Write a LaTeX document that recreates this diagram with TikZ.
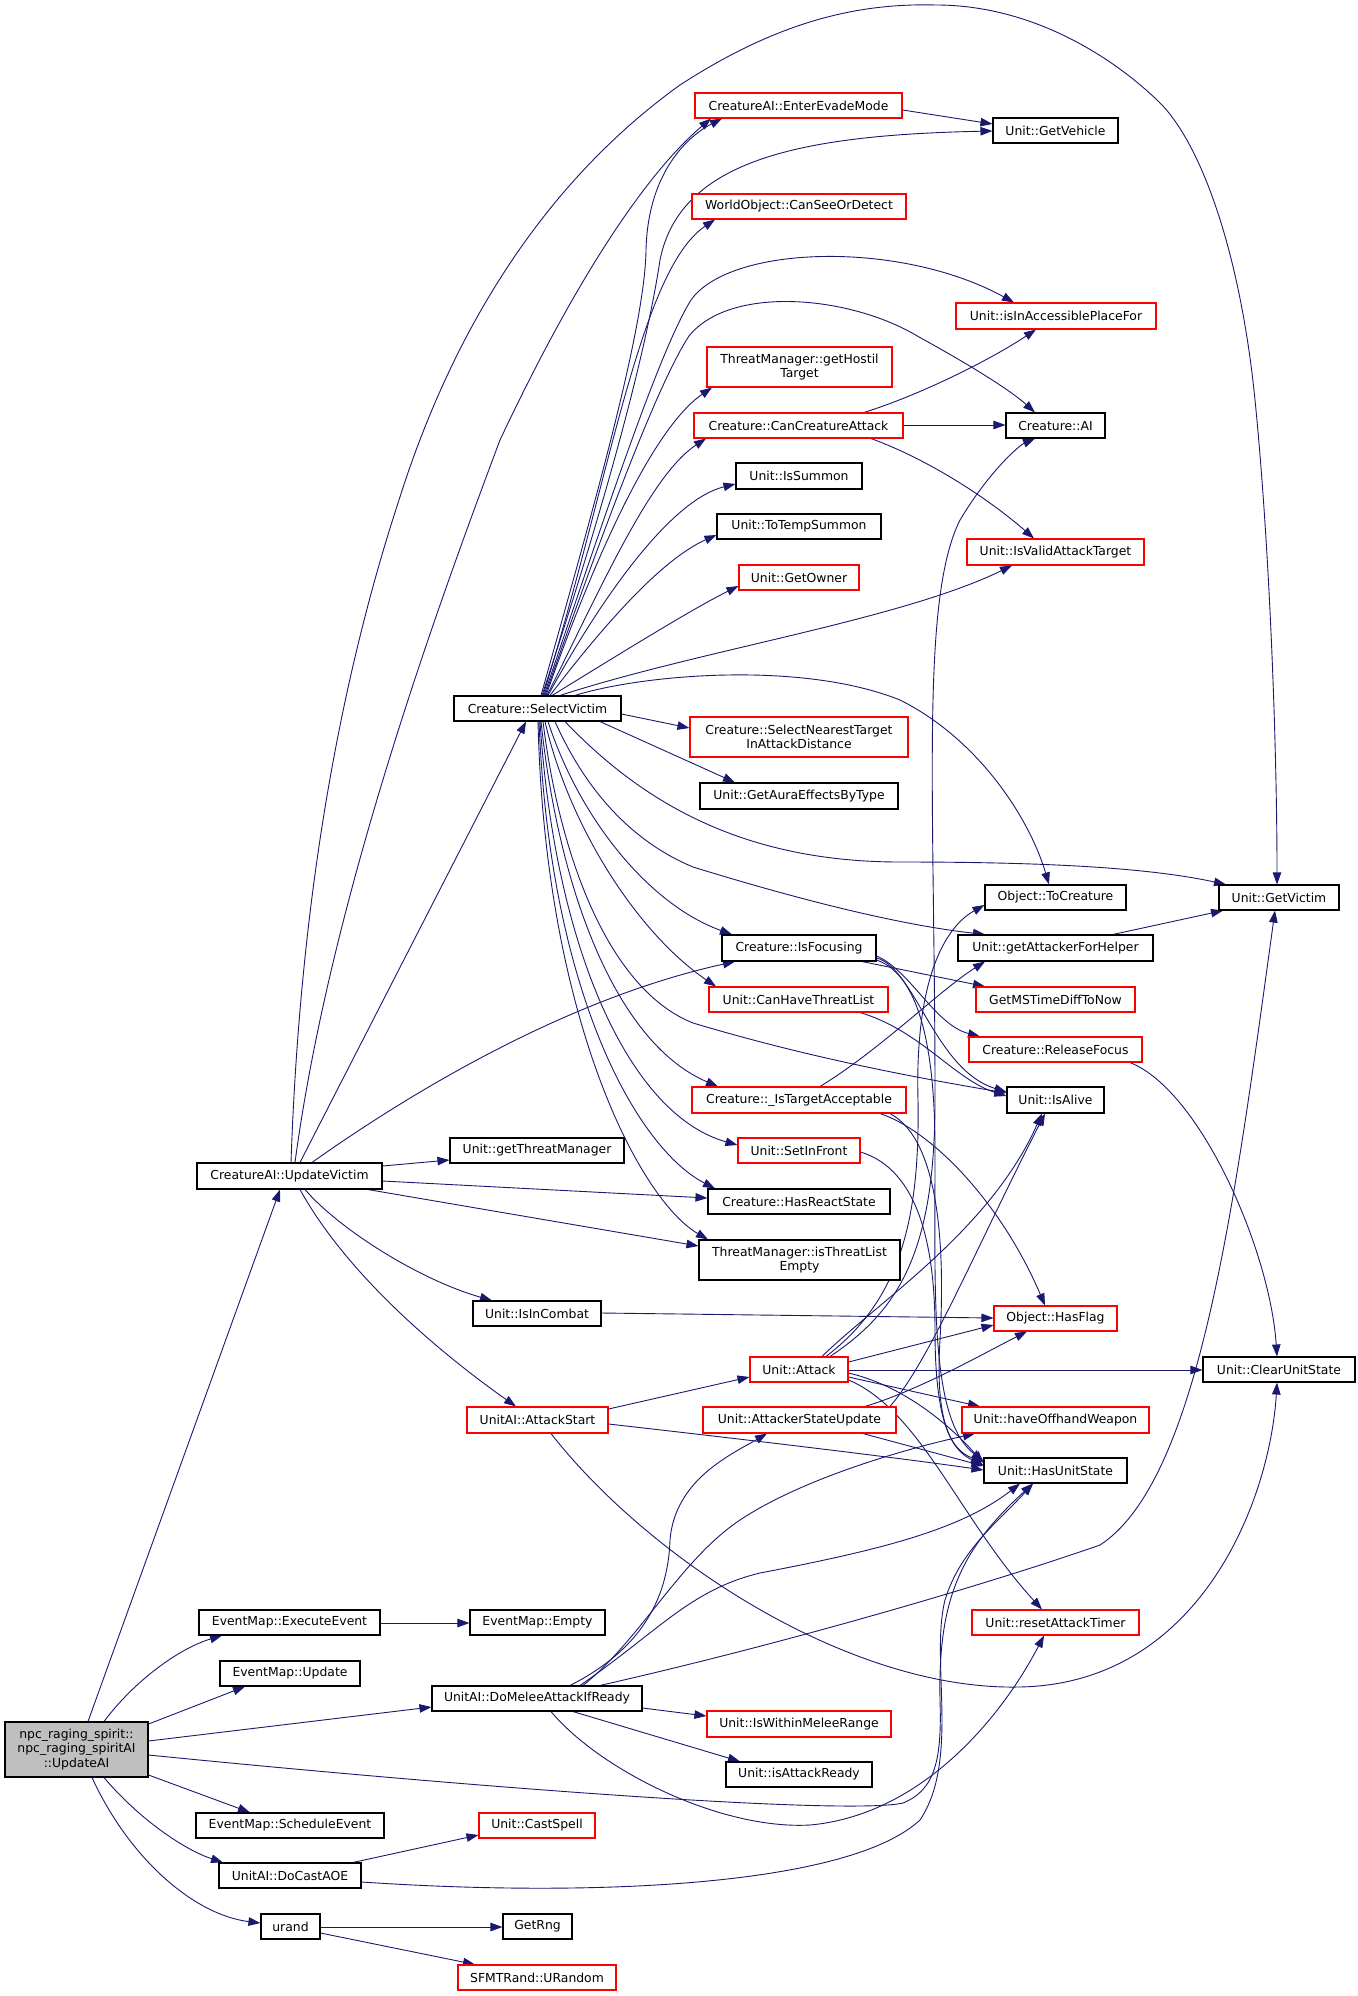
\documentclass[tikz,border=0pt]{standalone}
\usepackage{fontspec}
\setmainfont{DejaVu Sans}
\usetikzlibrary{arrows.meta,calc}
\definecolor{edgeblue}{HTML}{191970}
\definecolor{rootgray}{HTML}{BFBFBF}
\newcommand{\dfont}{\fontsize{12.4pt}{14.5pt}\selectfont}
\newcommand{\ptT}[2]{($(#1.north west)!(#2,0)!(#1.north east)$)}
\newcommand{\ptB}[2]{($(#1.south west)!(#2,0)!(#1.south east)$)}
\newcommand{\ptL}[2]{($(#1.north west)!(0,#2)!(#1.south west)$)}
\newcommand{\ptR}[2]{($(#1.north east)!(0,#2)!(#1.south east)$)}
\newcommand{\nd}[7][]{\node[box,#1,minimum width={(#5-#3)*1pt},minimum height={(#6-#4)*1pt}] (#2) at ({(#3+#5)/2},{(#4+#6)/2}) {#7};}
\pgfdeclarelayer{back}
\pgfdeclarelayer{bg}
\pgfsetlayers{back,bg,main}
\tikzset{
  box/.style={draw=black, line width=1.1pt, fill=white, inner sep=0pt, font=\dfont, align=center},
  rbox/.style={draw=red},
  rootbox/.style={fill=rootgray},
  conn/.style={draw=edgeblue, line width=0.9pt, -{Triangle[length=12pt,width=8.5pt,fill=edgeblue]}},
}
\begin{document}
\begin{tikzpicture}[x=1pt,y=-1pt]
\begin{pgfonlayer}{back}
\fill[white] (0,0) rectangle (1357,1996);
\end{pgfonlayer}
\useasboundingbox (0,0) rectangle (1357,1996);
% nodes
\nd[rootbox]{root}{5}{1722}{148}{1777}{npc\_raging\_spirit::\\npc\_raging\_spiritAI\\::UpdateAI}
\nd{exec}{199}{1610}{380}{1635}{EventMap::ExecuteEvent}
\nd{empty}{470}{1610}{605}{1635}{EventMap::Empty}
\nd{upd}{220}{1661}{360}{1686}{EventMap::Update}
\nd{melee}{432}{1686}{642}{1711}{UnitAI::DoMeleeAttackIfReady}
\nd{sched}{196}{1813}{384}{1838}{EventMap::ScheduleEvent}
\nd[rbox]{cast}{479}{1813}{595}{1838}{Unit::CastSpell}
\nd{aoe}{219}{1863}{361}{1888}{UnitAI::DoCastAOE}
\nd{urand}{261}{1914}{320}{1939}{urand}
\nd{rng}{503}{1914}{572}{1939}{GetRng}
\nd[rbox]{sfmt}{458}{1965}{616}{1990}{SFMTRand::URandom}
\nd[rbox]{reset}{972}{1610}{1139}{1635}{Unit::resetAttackTimer}
\nd[rbox]{wmr}{707}{1711}{891}{1737}{Unit::IsWithinMeleeRange}
\nd{ready}{726}{1762}{872}{1787}{Unit::isAttackReady}
\nd{uv}{197}{1163}{382}{1189}{CreatureAI::UpdateVictim}
\nd{gtm}{450}{1138}{624}{1163}{Unit::getThreatManager}
\nd{combat}{473}{1301}{601}{1326}{Unit::IsInCombat}
\nd[rbox]{astart}{467}{1407}{608}{1433}{UnitAI::AttackStart}
\nd{sv}{454}{696}{621}{721}{Creature::SelectVictim}
\nd[rbox]{evade}{695}{93}{902}{118}{CreatureAI::EnterEvadeMode}
\nd{veh}{993}{118}{1118}{143}{Unit::GetVehicle}
\nd[rbox]{csod}{692}{194}{906}{219}{WorldObject::CanSeeOrDetect}
\nd[rbox]{iap}{956}{303}{1156}{329}{Unit::isInAccessiblePlaceFor}
\nd[rbox]{ght}{707}{347}{892}{387}{ThreatManager::getHostil\\Target}
\nd[rbox]{cca}{694}{413}{903}{438}{Creature::CanCreatureAttack}
\nd{ai}{1006}{413}{1105}{438}{Creature::AI}
\nd{summ}{736}{463}{862}{489}{Unit::IsSummon}
\nd{tts}{717}{514}{881}{539}{Unit::ToTempSummon}
\nd[rbox]{ivat}{967}{539}{1144}{565}{Unit::IsValidAttackTarget}
\nd[rbox]{owner}{739}{565}{859}{590}{Unit::GetOwner}
\nd[rbox]{snt}{690}{717}{908}{757}{Creature::SelectNearestTarget\\InAttackDistance}
\nd{aura}{700}{783}{898}{809}{Unit::GetAuraEffectsByType}
\nd{tocr}{985}{885}{1126}{910}{Object::ToCreature}
\nd{victim}{1219}{885}{1339}{910}{Unit::GetVictim}
\nd{focus}{722}{935}{876}{961}{Creature::IsFocusing}
\nd{afh}{958}{935}{1153}{961}{Unit::getAttackerForHelper}
\nd[rbox]{chtl}{709}{987}{888}{1012}{Unit::CanHaveThreatList}
\nd[rbox]{gms}{976}{987}{1135}{1012}{GetMSTimeDiffToNow}
\nd[rbox]{rel}{969}{1037}{1142}{1062}{Creature::ReleaseFocus}
\nd[rbox]{ita}{692}{1087}{906}{1113}{Creature::\_IsTargetAcceptable}
\nd{alive}{1007}{1087}{1104}{1113}{Unit::IsAlive}
\nd[rbox]{sif}{738}{1138}{860}{1163}{Unit::SetInFront}
\nd{hrs}{708}{1189}{890}{1214}{Creature::HasReactState}
\nd{itle}{699}{1240}{900}{1280}{ThreatManager::isThreatList\\Empty}
\nd[rbox]{hasflag}{994}{1306}{1117}{1331}{Object::HasFlag}
\nd[rbox]{attack}{750}{1357}{848}{1382}{Unit::Attack}
\nd{cus}{1203}{1357}{1355}{1382}{Unit::ClearUnitState}
\nd[rbox]{asu}{703}{1407}{896}{1433}{Unit::AttackerStateUpdate}
\nd[rbox]{offh}{962}{1407}{1149}{1433}{Unit::haveOffhandWeapon}
\nd{hus}{984}{1458}{1127}{1483}{Unit::HasUnitState}
% edges
\begin{pgfonlayer}{bg}
% root
\draw[conn] \ptT{root}{88} -- \ptB{uv}{280};
\draw[conn] \ptT{root}{104} .. controls (135,1680) and (180,1648) .. \ptB{exec}{222};
\draw[conn] \ptR{root}{1724} -- \ptB{upd}{245};
\draw[conn] \ptR{root}{1741} -- \ptL{melee}{1707};
\draw[conn] \ptR{root}{1755} .. controls (500,1790) and (850,1815) .. (903,1803) .. controls (935,1790) and (942,1760) .. (940,1700) .. controls (938,1600) and (960,1550) .. \ptB{hus}{1033};
\draw[conn] \ptR{root}{1775} -- \ptT{sched}{250};
\draw[conn] \ptB{root}{104} .. controls (140,1820) and (185,1850) .. \ptT{aoe}{223};
\draw[conn] \ptB{root}{92} .. controls (130,1860) and (195,1915) .. \ptL{urand}{1923};
\draw[conn] \ptR{exec}{1623} -- \ptL{empty}{1623};
\draw[conn] \ptT{aoe}{353} -- \ptL{cast}{1835};
\draw[conn] \ptR{aoe}{1882} .. controls (600,1898) and (850,1885) .. (920,1820) .. controls (960,1760) and (930,1660) .. (945,1600) .. controls (960,1550) and (1000,1520) .. \ptB{hus}{1033};
\draw[conn] \ptR{urand}{1927} -- \ptL{rng}{1927};
\draw[conn] \ptR{urand}{1933} -- \ptT{sfmt}{475};
% melee
\draw[conn] \ptR{melee}{1708} -- \ptL{wmr}{1716};
\draw[conn] \ptB{melee}{573} -- \ptT{ready}{740};
\draw[conn] \ptB{melee}{551} .. controls (600,1770) and (720,1830) .. (810,1825) .. controls (920,1815) and (1000,1720) .. \ptB{reset}{1044};
\draw[conn] \ptT{melee}{570} .. controls (640,1650) and (668,1600) .. (670,1540) .. controls (675,1480) and (730,1455) .. \ptB{asu}{767};
\draw[conn] \ptT{melee}{580} .. controls (660,1630) and (690,1590) .. (760,1573) .. controls (880,1550) and (960,1530) .. \ptB{hus}{1020};
\draw[conn] \ptT{melee}{583} .. controls (640,1640) and (680,1560) .. (740,1520) .. controls (800,1480) and (900,1450) .. \ptB{offh}{975};
\draw[conn] \ptT{melee}{600} .. controls (800,1640) and (1000,1580) .. (1100,1545) .. controls (1200,1480) and (1235,1200) .. \ptB{victim}{1275};
% UpdateVictim
\draw[conn] \ptT{uv}{291} .. controls (300,900) and (340,680) .. (399,500) .. controls (440,370) and (520,200) .. (680,85) .. controls (780,20) and (860,3) .. (936,5) .. controls (1030,5) and (1110,55) .. (1157,100) .. controls (1200,140) and (1240,250) .. (1255,400) .. controls (1270,550) and (1277,750) .. \ptT{victim}{1277};
\draw[conn] \ptT{uv}{295} .. controls (330,900) and (440,600) .. (500,440) .. controls (580,270) and (650,170) .. \ptB{evade}{711};
\draw[conn] \ptT{uv}{300} -- \ptB{sv}{526};
\draw[conn] \ptT{uv}{312} .. controls (400,1100) and (560,1000) .. \ptB{focus}{735};
\draw[conn] \ptR{uv}{1166} -- \ptL{gtm}{1160};
\draw[conn] \ptR{uv}{1181} -- \ptL{hrs}{1198};
\draw[conn] \ptB{uv}{368} -- \ptL{itle}{1246};
\draw[conn] \ptB{uv}{305} .. controls (340,1230) and (420,1280) .. \ptT{combat}{492};
\draw[conn] \ptB{uv}{300} .. controls (350,1280) and (450,1360) .. \ptT{astart}{516};
% SelectVictim
\draw[conn] \ptT{sv}{541} .. controls (590,520) and (645,330) .. (646,250) .. controls (648,170) and (690,135) .. \ptB{evade}{722};
\draw[conn] \ptT{sv}{542} .. controls (600,520) and (645,360) .. (660,260) .. controls (680,160) and (800,135) .. \ptL{veh}{131};
\draw[conn] \ptT{sv}{543} .. controls (610,480) and (640,270) .. \ptB{csod}{715};
\draw[conn] \ptT{sv}{544} .. controls (610,500) and (660,350) .. (691,300) .. controls (730,245) and (900,240) .. \ptT{iap}{1014};
\draw[conn] \ptT{sv}{545} .. controls (610,510) and (660,380) .. (689,336) .. controls (730,285) and (850,295) .. (919,337) .. controls (970,365) and (1010,390) .. \ptT{ai}{1035};
\draw[conn] \ptT{sv}{546} .. controls (590,570) and (650,430) .. \ptB{ght}{712};
\draw[conn] \ptT{sv}{547} .. controls (600,590) and (650,475) .. \ptB{cca}{706};
\draw[conn] \ptT{sv}{548} .. controls (600,600) and (670,500) .. \ptL{summ}{484};
\draw[conn] \ptT{sv}{550} .. controls (600,630) and (660,560) .. \ptL{tts}{535};
\draw[conn] \ptT{sv}{552} .. controls (610,660) and (690,610) .. \ptL{owner}{586};
\draw[conn] \ptT{sv}{560} .. controls (700,650) and (900,620) .. \ptB{ivat}{1012};
\draw[conn] \ptT{sv}{575} .. controls (640,675) and (800,660) .. (900,700) .. controls (980,740) and (1030,820) .. \ptT{tocr}{1049};
\draw[conn] \ptR{sv}{714} -- \ptL{snt}{728};
\draw[conn] \ptB{sv}{600} -- \ptT{aura}{735};
\draw[conn] \ptB{sv}{565} .. controls (640,800) and (740,862) .. (900,862) .. controls (1050,862) and (1150,868) .. \ptT{victim}{1226};
\draw[conn] \ptB{sv}{555} .. controls (590,800) and (640,845) .. (693,867) .. controls (800,900) and (900,925) .. \ptT{afh}{985};
\draw[conn] \ptB{sv}{548} .. controls (580,820) and (650,905) .. \ptT{focus}{732};
\draw[conn] \ptB{sv}{545} .. controls (570,830) and (640,935) .. \ptT{chtl}{716};
\draw[conn] \ptB{sv}{543} .. controls (560,860) and (610,990) .. (693,1023) .. controls (800,1055) and (900,1075) .. \ptL{alive}{1093};
\draw[conn] \ptB{sv}{541} .. controls (560,900) and (620,1045) .. \ptT{ita}{718};
\draw[conn] \ptB{sv}{540} .. controls (555,950) and (630,1115) .. \ptL{sif}{1145};
\draw[conn] \ptB{sv}{539} .. controls (550,1000) and (640,1150) .. \ptT{hrs}{715};
\draw[conn] \ptB{sv}{538} .. controls (545,1020) and (640,1200) .. \ptT{itle}{708};
% others
\draw[conn] \ptR{evade}{110} -- \ptL{veh}{124};
\draw[conn] \ptT{cca}{864} .. controls (920,395) and (990,360) .. \ptB{iap}{1036};
\draw[conn] \ptR{cca}{425} -- \ptL{ai}{425};
\draw[conn] \ptB{cca}{871} .. controls (930,460) and (990,500) .. \ptT{ivat}{1034};
\draw[conn] \ptT{afh}{1113} -- \ptB{victim}{1223};
\draw[conn] \ptB{focus}{862} -- \ptT{gms}{985};
\draw[conn] \ptR{focus}{956} .. controls (910,970) and (935,1025) .. \ptT{rel}{980};
\draw[conn] \ptR{focus}{958} .. controls (915,968) and (935,1070) .. \ptL{alive}{1092};
\draw[conn] \ptR{focus}{960} .. controls (920,975) and (935,1050) .. (935,1150) .. controls (935,1300) and (930,1420) .. \ptL{hus}{1461};
\draw[conn] \ptB{chtl}{860} .. controls (920,1030) and (955,1080) .. \ptL{alive}{1096};
\draw[conn] \ptB{rel}{1130} .. controls (1200,1090) and (1270,1250) .. \ptT{cus}{1277};
\draw[conn] \ptT{ita}{820} .. controls (880,1050) and (940,990) .. \ptB{afh}{985};
\draw[conn] \ptB{ita}{880} .. controls (930,1130) and (1000,1200) .. \ptT{hasflag}{1045};
\draw[conn] \ptB{ita}{890} .. controls (940,1140) and (945,1250) .. (940,1340) .. controls (935,1420) and (950,1450) .. \ptL{hus}{1462};
\draw[conn] \ptR{sif}{1152} .. controls (920,1170) and (935,1250) .. (935,1330) .. controls (935,1420) and (950,1450) .. \ptL{hus}{1465};
\draw[conn] \ptR{combat}{1313} -- \ptL{hasflag}{1318};
\draw[conn] \ptR{attack}{1362} -- \ptL{hasflag}{1325};
\draw[conn] \ptR{attack}{1370} -- \ptL{cus}{1370};
\draw[conn] \ptR{attack}{1377} -- \ptT{offh}{980};
\draw[conn] \ptR{attack}{1373} .. controls (900,1385) and (945,1420) .. \ptL{hus}{1463};
\draw[conn] \ptR{attack}{1380} .. controls (920,1410) and (960,1520) .. \ptT{reset}{1042};
\draw[conn] \ptT{attack}{822} .. controls (880,1300) and (990,1230) .. \ptB{alive}{1042};
\draw[conn] \ptT{attack}{830} .. controls (900,1310) and (935,1250) .. (935,1100) .. controls (935,800) and (920,600) .. (960,520) .. controls (990,470) and (1020,445) .. \ptB{ai}{1035};
\draw[conn] \ptT{attack}{826} .. controls (900,1300) and (920,1220) .. (918,1100) .. controls (915,990) and (940,930) .. \ptL{tocr}{905};
\draw[conn] \ptT{asu}{890} .. controls (930,1360) and (975,1250) .. \ptB{alive}{1045};
\draw[conn] \ptT{asu}{865} .. controls (920,1390) and (990,1350) .. \ptB{hasflag}{1027};
\draw[conn] \ptB{asu}{863} -- \ptL{hus}{1466};
\draw[conn] \ptR{astart}{1409} -- \ptL{attack}{1377};
\draw[conn] \ptR{astart}{1424} .. controls (750,1440) and (900,1458) .. \ptL{hus}{1470};
\draw[conn] \ptB{astart}{551} .. controls (650,1560) and (850,1690) .. (1018,1687) .. controls (1200,1685) and (1270,1500) .. \ptB{cus}{1277};
\end{pgfonlayer}
\end{tikzpicture}
\end{document}
